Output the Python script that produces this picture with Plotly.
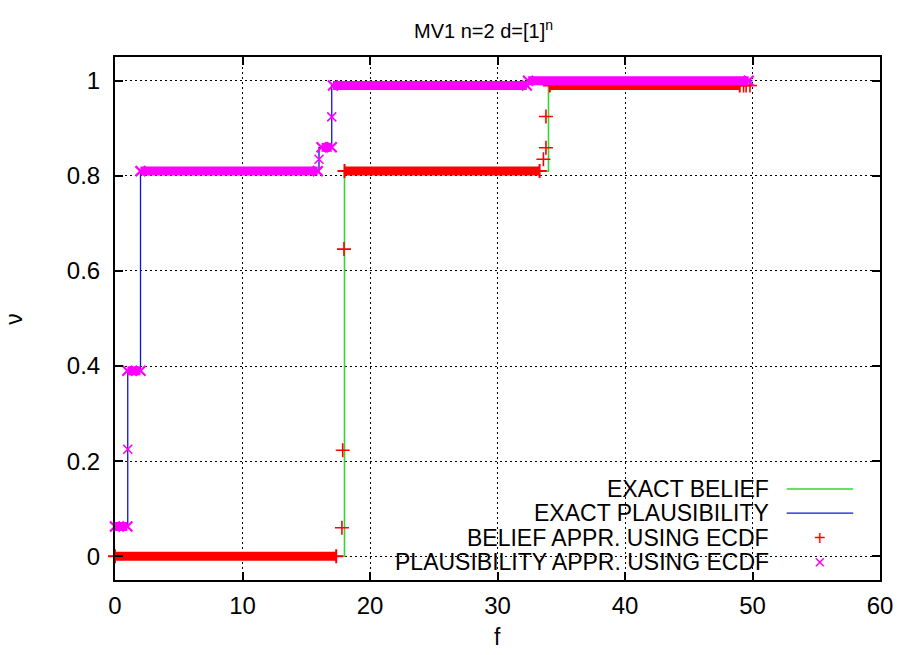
import plotly.graph_objects as go

# ---------------- data ----------------
# Exact plausibility step function: value taken from each breakpoint on
plaus_f = [0, 1, 2, 16, 17, 32.4, 50]
plaus_v = [0.0625, 0.39, 0.81, 0.86, 0.99, 1.0, 1.0]
# Exact belief step function
belief_f = [0, 18, 34, 50]
belief_v = [0, 0.81, 0.99, 0.99]

# ECDF approximation of plausibility: plateaus (start, end, level) + transition points
pl_seg_start = [0, 0.97, 2.0, 16.2, 17.1, 32.4]
pl_seg_end = [0.97, 2.0, 15.9, 17.0, 32.3, 49.7]
pl_seg_level = [0.0625, 0.39, 0.81, 0.86, 0.99, 1.0]
pl_pts_f = [1.0, 16.0, 17.0]
pl_pts_v = [0.225, 0.835, 0.924]

# ECDF approximation of belief
bel_seg_start = [0, 18.0, 34.1]
bel_seg_end = [17.35, 33.3, 49.0]
bel_seg_level = [0, 0.81, 0.99]
bel_pts_f = [17.8, 17.86, 17.96, 33.6, 33.8, 33.8, 49.3, 49.5, 49.8]
bel_pts_v = [0.06, 0.223, 0.646, 0.835, 0.859, 0.925, 0.99, 0.99, 0.99]

x_ticks = [0, 10, 20, 30, 40, 50, 60]
y_ticks = [0, 0.2, 0.4, 0.6, 0.8, 1]
y_tick_text = ["0", "0.2", "0.4", "0.6", "0.8", "1"]

legend_labels = ["EXACT BELIEF", "EXACT PLAUSIBILITY",
                 "BELIEF APPR. USING ECDF", "PLAUSIBILITY APPR. USING ECDF"]

GREEN = "#33d633"
BLUE = "#1010e0"
RED = "#ff0000"
MAGENTA = "#ff00ff"
FONT = "Liberation Sans, Arial, sans-serif"


def seg_xy(starts, ends, levels):
    xs, ys = [], []
    for s, e, l in zip(starts, ends, levels):
        xs += [s, e, None]
        ys += [l, l, None]
    return xs, ys


fig = go.Figure()

# exact belief (green)
fig.add_trace(go.Scatter(x=belief_f, y=belief_v, mode="lines", line_shape="hv",
                         line=dict(color=GREEN, width=1.6), showlegend=False))
# exact plausibility (blue)
fig.add_trace(go.Scatter(x=plaus_f, y=plaus_v, mode="lines", line_shape="hv",
                         line=dict(color=BLUE, width=1.3), showlegend=False))

# belief ECDF (red +)
bx, by = seg_xy(bel_seg_start, bel_seg_end, bel_seg_level)
fig.add_trace(go.Scatter(x=bx, y=by, mode="lines+markers",
                         line=dict(color=RED, width=9),
                         marker=dict(symbol="cross-thin", size=10,
                                     line=dict(color=RED, width=2)),
                         cliponaxis=False, showlegend=False))
fig.add_trace(go.Scatter(x=bel_pts_f, y=bel_pts_v, mode="markers",
                         marker=dict(symbol="cross-thin", size=10,
                                     line=dict(color=RED, width=1.6)),
                         cliponaxis=False, showlegend=False))

# plausibility ECDF (magenta x)
px, py = seg_xy(pl_seg_start, pl_seg_end, pl_seg_level)
fig.add_trace(go.Scatter(x=px, y=py, mode="lines+markers",
                         line=dict(color=MAGENTA, width=9),
                         marker=dict(symbol="x-thin", size=10,
                                     line=dict(color=MAGENTA, width=2.2)),
                         cliponaxis=False, showlegend=False))
fig.add_trace(go.Scatter(x=pl_pts_f, y=pl_pts_v, mode="markers",
                         marker=dict(symbol="x-thin", size=9,
                                     line=dict(color=MAGENTA, width=1.6)),
                         cliponaxis=False, showlegend=False))

axis_common = dict(
    showline=True, linewidth=2, linecolor="black", mirror="ticks",
    ticks="inside", ticklen=8, tickwidth=1.5, tickcolor="black",
    showgrid=True, gridcolor="black", gridwidth=1, griddash="2px,3px",
    zeroline=False, tickfont=dict(family=FONT, size=24, color="black"),
)
fig.update_xaxes(range=[0, 60], tickvals=x_ticks, ticktext=[str(t) for t in x_ticks],
                 ticklabelstandoff=3, **axis_common)
fig.update_yaxes(range=[-0.05, 1.05], tickvals=y_ticks, ticktext=y_tick_text,
                 ticklabelstandoff=8, **axis_common)

shapes = [
    # opaque key box
    dict(type="rect", xref="paper", yref="paper", x0=0.314, x1=0.982, y0=0, y1=0.199,
         fillcolor="white", line=dict(width=0), layer="between"),
    dict(type="line", xref="paper", yref="paper", x0=0.878, x1=0.965, y0=0.174, y1=0.174,
         line=dict(color=GREEN, width=1.6)),
    dict(type="line", xref="paper", yref="paper", x0=0.878, x1=0.965, y0=0.128, y1=0.128,
         line=dict(color=BLUE, width=1.3)),
]

annotations = []
leg_y = [0.174, 0.128, 0.081, 0.035]
for lab, yy in zip(legend_labels, leg_y):
    annotations.append(dict(text=lab, xref="paper", yref="paper", x=0.857, y=yy,
                            xanchor="right", yanchor="middle", showarrow=False,
                            font=dict(family=FONT, size=23, color="black")))
annotations.append(dict(text="+", xref="paper", yref="paper", x=0.922, y=leg_y[2],
                        xanchor="center", yanchor="middle", showarrow=False,
                        font=dict(family=FONT, size=20, color=RED)))
annotations.append(dict(text="×", xref="paper", yref="paper", x=0.922, y=leg_y[3],
                        xanchor="center", yanchor="middle", showarrow=False,
                        font=dict(family=FONT, size=20, color=MAGENTA)))
# title
annotations.append(dict(text="MV1 n=2 d=[1]<sup>n</sup>", xref="paper", yref="paper",
                        x=0.482, y=1.052, xanchor="center", yanchor="middle",
                        showarrow=False, font=dict(family=FONT, size=20, color="black")))
# axis labels
annotations.append(dict(text="f", xref="paper", yref="paper", x=0.5, y=-0.109,
                        xanchor="center", yanchor="middle", showarrow=False,
                        font=dict(family=FONT, size=23, color="black")))
annotations.append(dict(text="ν", xref="paper", yref="paper", x=-0.133, y=0.5,
                        xanchor="center", yanchor="middle", textangle=-90, showarrow=False,
                        font=dict(family=FONT, size=23, color="black")))

fig.update_layout(
    width=905, height=655,
    margin=dict(l=115, r=25, t=57, b=75),
    paper_bgcolor="white", plot_bgcolor="white",
    showlegend=False, shapes=shapes, annotations=annotations,
)

fig.write_html("out.html", config={"displayModeBar": False},
               post_script="document.body.style.margin='0';document.body.style.padding='0';")
